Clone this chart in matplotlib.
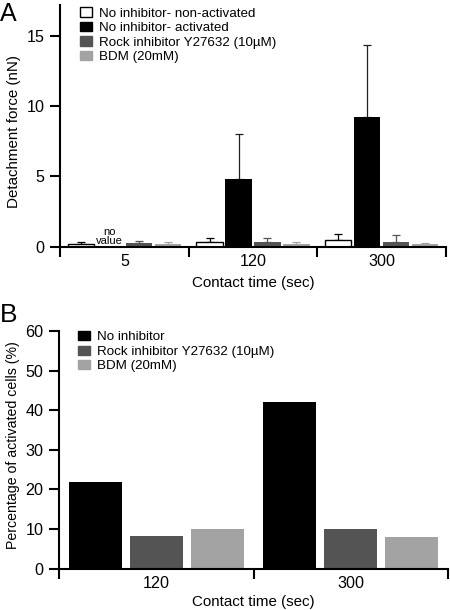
import numpy as np
import matplotlib
matplotlib.use("Agg")
import matplotlib.pyplot as plt
from matplotlib.patches import Patch

plt.rcParams['font.family'] = ['Liberation Sans', 'DejaVu Sans']

# ---------------- Data ----------------
# Panel A: detachment force (nN)
times_a = ["5", "120", "300"]
series_a = ["No inhibitor- non-activated", "No inhibitor- activated",
            "Rock inhibitor Y27632 (10\u00b5M)", "BDM (20mM)"]
nonact_mean = [0.22, 0.35, 0.50]
nonact_err = [0.15, 0.25, 0.37]
act_mean = [np.nan, 4.8, 9.2]
act_err = [np.nan, 3.25, 5.15]
rock_mean = [0.28, 0.33, 0.35]
rock_err = [0.15, 0.27, 0.47]
bdm_mean = [0.20, 0.20, 0.20]
bdm_err = [0.12, 0.10, 0.07]

# Panel B: percentage of activated cells (%)
times_b = ["120", "300"]
series_b = ["No inhibitor", "Rock inhibitor Y27632 (10\u00b5M)", "BDM (20mM)"]
noinh_pct = [22.0, 42.0]
rock_pct = [8.3, 10.0]
bdm_pct = [10.0, 7.9]

# ---------------- Style ----------------
WHITE, BLACK, DARK, LIGHT = "#ffffff", "#000000", "#545454", "#a3a3a3"
FS = 10.9
TFS = 11.6
LFS = 9.6

fig = plt.figure(figsize=(4.5, 6.1), dpi=100)

def style_axes(ax, ngroups, labels):
    for s in ["top", "right"]:
        ax.spines[s].set_visible(False)
    for s in ["left", "bottom"]:
        ax.spines[s].set_linewidth(1.5)
    ax.set_xlim(0, ngroups)
    ax.set_xticks(np.arange(ngroups + 1))
    ax.set_xticklabels([])
    ax.set_xticks(np.arange(ngroups) + 0.5, minor=True)
    ax.set_xticklabels(labels, minor=True, fontsize=TFS)
    ax.tick_params(axis="x", which="major", length=7, width=1.5, direction="out")
    ax.tick_params(axis="x", which="minor", length=0, pad=5)
    ax.tick_params(axis="y", which="major", length=7.2, width=1.5,
                   direction="out", labelsize=TFS, pad=4)

# ---------------- Panel A ----------------
axA = fig.add_axes([60/450, 1-246.7/610, 386/450, (246.7-5)/610])
ng = len(times_a)
grp = np.arange(ng) + 0.5
step, width = 0.225, 0.205
means = [nonact_mean, act_mean, rock_mean, bdm_mean]
errs = [nonact_err, act_err, rock_err, bdm_err]
faces = [WHITE, BLACK, DARK, LIGHT]
ecols = [BLACK, "#222222", DARK, LIGHT]
for i, (m, e, fc, ec) in enumerate(zip(means, errs, faces, ecols)):
    x = grp + (i - 1.5) * step
    m = np.array(m, dtype=float)
    e = np.array(e, dtype=float)
    axA.bar(x, m, width=width, color=fc,
            edgecolor=BLACK if fc == WHITE else fc,
            linewidth=1.0 if fc == WHITE else 0, zorder=2)
    ok = ~np.isnan(m)
    axA.errorbar(x[ok], m[ok], yerr=[np.zeros(ok.sum()), e[ok]], fmt="none",
                 ecolor=ec, elinewidth=0.9, capsize=3.2, capthick=0.9, zorder=1)
# "no value" marker for missing bar
xmiss = grp[0] + (1 - 1.5) * step
axA.text(xmiss, 0.06, "no\nvalue", ha="center", va="bottom", fontsize=8,
         linespacing=0.85)
axA.set_ylim(0, 17.2)
axA.set_yticks([0, 5, 10, 15])
style_axes(axA, ng, times_a)
axA.set_ylabel("Detachment force (nN)", fontsize=FS)
axA.yaxis.set_label_coords(-0.102, 0.475)
axA.set_xlabel("Contact time (sec)", fontsize=FS)
axA.xaxis.set_label_coords(0.5, -0.12)
handlesA = [Patch(facecolor=fc, edgecolor=BLACK if fc == WHITE else fc,
                  linewidth=1.0) for fc in faces]
axA.legend(handlesA, series_a, loc="upper left", bbox_to_anchor=(0.052, 0.99),
           frameon=False, fontsize=LFS, borderpad=0, borderaxespad=0,
           handlelength=0.9, handleheight=0.68, handletextpad=0.55,
           labelspacing=0.17)
fig.text(0/450, 1-2/610, "A", fontsize=18, ha="left", va="top")

# ---------------- Panel B ----------------
axB = fig.add_axes([59/450, 1-568.7/610, 389/450, (568.7-331)/610])
ngb = len(times_b)
grpb = np.arange(ngb) + 0.5
stepb, widthb = 0.314, 0.273
valsB = [noinh_pct, rock_pct, bdm_pct]
facesB = [BLACK, DARK, LIGHT]
for i, (v, fc) in enumerate(zip(valsB, facesB)):
    x = grpb + (i - 1) * stepb
    axB.bar(x, v, width=widthb, color=fc, linewidth=0, zorder=2)
axB.set_ylim(0, 60)
axB.set_yticks(np.arange(0, 61, 10))
style_axes(axB, ngb, times_b)
axB.set_ylabel("Percentage of activated cells (%)", fontsize=10.2)
axB.yaxis.set_label_coords(-0.1, 0.52)
axB.set_xlabel("Contact time (sec)", fontsize=FS)
axB.xaxis.set_label_coords(0.5, -0.11)
handlesB = [Patch(facecolor=fc, edgecolor=fc, linewidth=1.0) for fc in facesB]
axB.legend(handlesB, series_b, loc="upper left", bbox_to_anchor=(0.049, 1.0),
           frameon=False, fontsize=LFS, borderpad=0, borderaxespad=0,
           handlelength=0.9, handleheight=0.68, handletextpad=0.55,
           labelspacing=0.17)
fig.text(0/450, 1-303/610, "B", fontsize=19, ha="left", va="top")

fig.savefig("out.png", dpi=100)
